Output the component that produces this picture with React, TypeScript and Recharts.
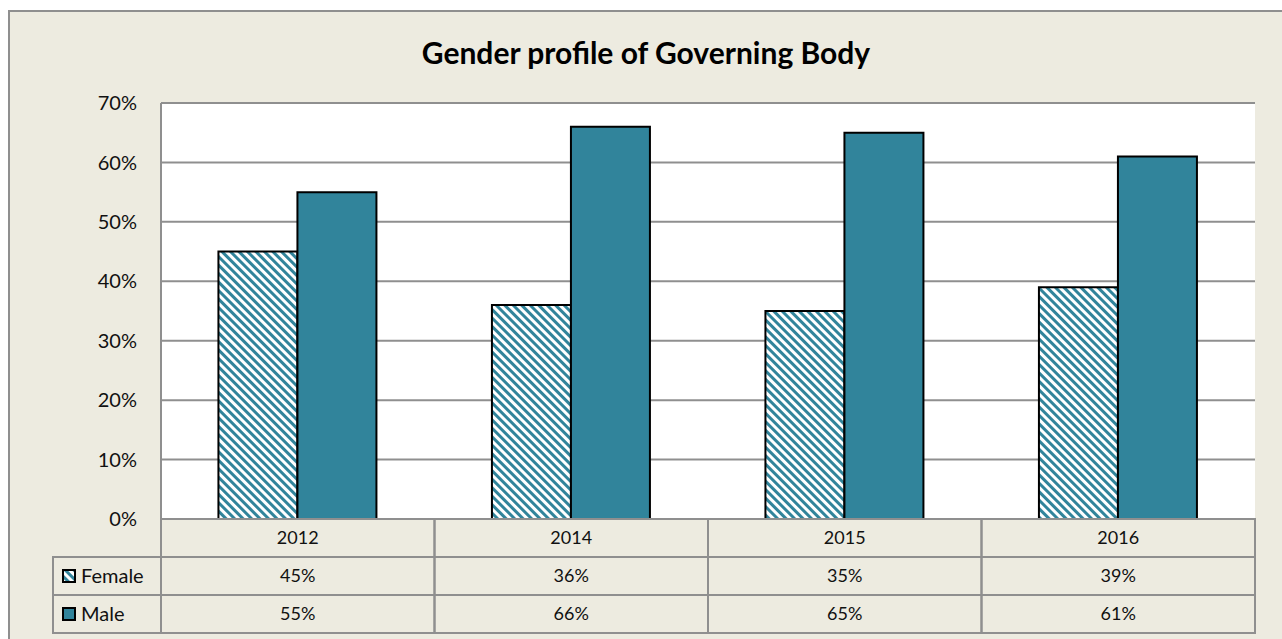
import { Bar, BarChart, CartesianGrid, XAxis, YAxis } from "recharts";

const years = ["2012", "2014", "2015", "2016"];
const female = [45, 36, 35, 39];
const male = [55, 66, 65, 61];
const yTicks = [0, 10, 20, 30, 40, 50, 60, 70];
const seriesNames = ["Female", "Male"];

const chartData = years.map((year, i) => ({
  year,
  female: female[i],
  male: male[i],
}));

const TEAL = "#31849B";
const GRID = "#8f8f8f";
const BG = "#EDEBE0";
const FONT = "Lato, 'Open Sans', sans-serif";

// layout, chart coordinates
const W = 1272;
const H = 627;
const PLOT_LEFT = 151;
const PLOT_RIGHT = 1245;
const PLOT_BOTTOM = 507;
const COL_W = (PLOT_RIGHT - PLOT_LEFT) / years.length;
const ROW_H = 38;
const LEGEND_LEFT = 43;

const Swatch = ({ x, y, patterned }: { x: number; y: number; patterned: boolean }) => (
  <rect
    x={x}
    y={y}
    width={12}
    height={12}
    fill={patterned ? "url(#femaleStripes)" : TEAL}
    stroke="#000"
    strokeWidth={2}
  />
);

const TableTick = (props: any) => {
  const { x, payload, index } = props;
  const i = years.indexOf(payload.value);
  const left = x - COL_W / 2;
  const top = PLOT_BOTTOM;
  const cells = [payload.value, `${female[i]}%`, `${male[i]}%`];
  return (
    <g>
      {cells.map((txt, r) => (
        <g key={r}>
          <rect
            x={left}
            y={top + r * ROW_H}
            width={COL_W}
            height={ROW_H}
            fill="none"
            stroke={GRID}
            strokeWidth={2}
          />
          <text
            x={x}
            y={top + r * ROW_H + ROW_H / 2 + 6}
            textAnchor="middle"
            fontFamily={FONT}
            fontSize={18}
            fill="#111"
          >
            {txt}
          </text>
        </g>
      ))}
      {index === 0 &&
        seriesNames.map((name, r) => (
          <g key={name}>
            <rect
              x={LEGEND_LEFT}
              y={top + (r + 1) * ROW_H}
              width={PLOT_LEFT - LEGEND_LEFT}
              height={ROW_H}
              fill="none"
              stroke={GRID}
              strokeWidth={2}
            />
            <Swatch x={LEGEND_LEFT + 10} y={top + (r + 1) * ROW_H + 13} patterned={r === 0} />
            <text
              x={LEGEND_LEFT + 28}
              y={top + (r + 1) * ROW_H + ROW_H / 2 + 7}
              fontFamily={FONT}
              fontSize={20}
              fill="#111"
            >
              {name}
            </text>
          </g>
        ))}
    </g>
  );
};

export default function App() {
  return (
    <div
      style={{
        position: "absolute",
        left: 8,
        top: 10,
        width: W,
        height: H,
        background: BG,
        borderTop: `2px solid ${GRID}`,
        borderLeft: `2px solid ${GRID}`,
      }}
    >
      <div
        style={{
          position: "absolute",
          left: 0,
          top: 22,
          width: W,
          textAlign: "center",
          fontFamily: FONT,
          fontWeight: 700,
          fontSize: 30,
          color: "#000",
        }}
      >
        Gender profile of Governing Body
      </div>
      <BarChart
        width={W}
        height={H}
        data={chartData}
        margin={{ top: 91, right: W - PLOT_RIGHT, left: PLOT_LEFT - 60, bottom: 6 }}
        barCategoryGap="21%"
        barGap={0}
      >
        <defs>
          <pattern
            id="femaleStripes"
            patternUnits="userSpaceOnUse"
            width={6}
            height={6}
            patternTransform="rotate(45)"
          >
            <rect x={0} y={0} width={6} height={6} fill="#fff" />
            <rect x={0} y={0} width={6} height={3} fill={TEAL} />
          </pattern>
        </defs>
        <CartesianGrid vertical={false} stroke={GRID} strokeWidth={2} fill="#fff" />
        <XAxis
          dataKey="year"
          height={114}
          interval={0}
          tickLine={false}
          axisLine={{ stroke: GRID, strokeWidth: 2 }}
          tick={<TableTick />}
        />
        <YAxis
          width={60}
          domain={[0, 70]}
          ticks={yTicks}
          tickFormatter={(v) => `${v}%`}
          tickLine={false}
          axisLine={{ stroke: GRID, strokeWidth: 2 }}
          tickMargin={18}
          tick={{ fontFamily: FONT, fontSize: 20, fill: "#111" }}
        />
        <Bar
          dataKey="female"
          name={seriesNames[0]}
          fill="url(#femaleStripes)"
          stroke="#000"
          strokeWidth={2}
          isAnimationActive={false}
        />
        <Bar
          dataKey="male"
          name={seriesNames[1]}
          fill={TEAL}
          stroke="#000"
          strokeWidth={2}
          isAnimationActive={false}
        />
      </BarChart>
    </div>
  );
}
